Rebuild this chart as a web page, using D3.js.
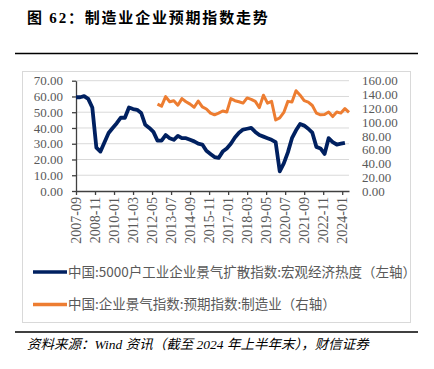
<!DOCTYPE html>
<html>
<head>
<meta charset="utf-8">
<script src="https://cdn.jsdelivr.net/npm/d3@7"></script>
<style>
  body { margin: 0; background: #fff; }
  svg { display: block; }
</style>
</head>
<body>
<div id="chart"></div>
<script>
// 月度类目轴: 2007-09 ~ 2024-06
const startMonth = '2007-09';
const endMonth = '2024-06';
const tickLabels = ['2007-09', '2008-11', '2010-01', '2011-03', '2012-05', '2013-07', '2014-09',
  '2015-11', '2017-01', '2018-03', '2019-05', '2020-07', '2021-09', '2022-11', '2024-01'];

// 宏观经济热度 (左轴), 季度, 自 2007-09 起
const heatStart = '2007-09';
const heatValues = [59.5, 59.5, 60.2, 58.5, 53, 27.5, 25, 31, 36.8, 40,
  43, 46.5, 46.5, 53, 52, 51.5, 49.5, 42, 40, 37.5,
  32, 32, 35.5, 33.5, 32.5, 35, 33.5, 33.5, 32.5, 31.5,
  30, 29.5, 25.5, 23.5, 21.5, 21, 25, 27, 30, 34,
  37, 39, 39.5, 40, 37.5, 35.5, 34.5, 33.5, 32.5, 31,
  12.5, 17.5, 24.5, 33.5, 38.5, 42.5, 41.5, 39.5, 37, 28,
  27, 23.5, 33.5, 31, 29.5, 30, 30.5];

// 预期指数:制造业 (右轴), 季度, 自 2012-09 起
const expectStart = '2012-09';
const expectValues = [126, 123, 137, 129.5, 131, 124.5, 134, 129.5, 126, 121.5,
  130.5, 122, 119, 113, 110.5, 113, 116, 114.5, 134, 131,
  129.5, 127.5, 135, 133, 130, 121, 139, 127.5, 130, 103,
  106, 114, 130, 129, 145.5, 139, 131, 129, 124, 113,
  110.5, 111, 114.5, 108, 114.5, 113, 119.5, 114];

const leftTicks = [0, 10, 20, 30, 40, 50, 60, 70];
const rightTicks = [0, 20, 40, 60, 80, 100, 120, 140, 160];

const legendNames = ['中国:5000户工业企业景气扩散指数:宏观经济热度（左轴）',
  '中国:企业景气指数:预期指数:制造业（右轴）'];

const width = 434, height = 369;
const fmtMonth = d3.timeFormat('%Y-%m');
const parseMonth = d3.timeParse('%Y-%m');

const months = d3.timeMonth.range(parseMonth(startMonth), d3.timeMonth.offset(parseMonth(endMonth), 1)).map(fmtMonth);

function quarterSeries(start, values) {
  const s = parseMonth(start);
  return values.map((v, i) => ({ m: fmtMonth(d3.timeMonth.offset(s, i * 3)), v: v }));
}
const heat = quarterSeries(heatStart, heatValues);
const expect = quarterSeries(expectStart, expectValues);

const plot = { left: 76, right: 349, top: 80.7, bottom: 191 };
const grey = '#595959';
const serif = '"Liberation Serif", "Times New Roman", "Noto Sans CJK SC", serif';

const svg = d3.select('#chart').append('svg')
  .attr('width', width)
  .attr('height', height);

// 标题
svg.append('text')
  .attr('x', 27)
  .attr('y', 23)
  .attr('font-family', serif)
  .attr('font-weight', 'bold')
  .attr('font-size', 15)
  .attr('letter-spacing', 1.8)
  .attr('fill', '#000')
  .text('图 62：制造业企业预期指数走势');

svg.append('line').attr('x1', 15).attr('x2', 418).attr('y1', 53.5).attr('y2', 53.5)
  .attr('stroke', '#000').attr('stroke-width', 1.3);
svg.append('line').attr('x1', 15).attr('x2', 418).attr('y1', 332).attr('y2', 332)
  .attr('stroke', '#000').attr('stroke-width', 1.3);

svg.append('rect')
  .attr('x', 22.5).attr('y', 71.5).attr('width', 388).attr('height', 251)
  .attr('fill', 'none').attr('stroke', '#d9d9d9');

// 比例
const xScale = d3.scalePoint().domain(months).range([plot.left, plot.right]);
const yLeft = d3.scaleLinear().domain([0, 70]).range([plot.bottom, plot.top]);
const yRight = d3.scaleLinear().domain([0, 160]).range([plot.bottom, plot.top]);

// 网格线
svg.append('g').attr('class', 'grid')
  .selectAll('line')
  .data(leftTicks.slice(1))
  .enter().append('line')
  .attr('x1', plot.left).attr('x2', plot.right)
  .attr('y1', d => yLeft(d)).attr('y2', d => yLeft(d))
  .attr('stroke', '#d9d9d9').attr('stroke-width', 1);

// 坐标轴
const yAxisLeft = d3.axisLeft(yLeft).tickValues(leftTicks).tickFormat(d3.format('.2f'))
  .tickSize(4).tickPadding(9).tickSizeOuter(0);
const gl = svg.append('g').attr('transform', `translate(${plot.left},0)`).call(yAxisLeft);
gl.selectAll('text').attr('font-family', serif).attr('font-size', 13).attr('fill', grey);
gl.selectAll('line, path').attr('stroke', '#404040').attr('stroke-width', 1.3);

const yAxisRight = d3.axisRight(yRight).tickValues(rightTicks).tickFormat(d3.format('.2f'))
  .tickSize(0).tickPadding(13).tickSizeOuter(0);
const gr = svg.append('g').attr('transform', `translate(${plot.right},0)`).call(yAxisRight);
gr.select('.domain').remove();
gr.selectAll('text').attr('font-family', serif).attr('font-size', 13).attr('fill', grey);

const xAxis = d3.axisBottom(xScale).tickValues(tickLabels).tickSize(4).tickSizeOuter(0);
const gx = svg.append('g').attr('transform', `translate(0,${plot.bottom})`).call(xAxis);
gx.selectAll('line, path').attr('stroke', '#404040').attr('stroke-width', 1.3);
gx.selectAll('text')
  .attr('font-family', serif).attr('font-size', 14).attr('fill', grey)
  .attr('transform', 'rotate(-90)')
  .attr('text-anchor', 'end')
  .attr('x', -6).attr('y', 0).attr('dy', '0.32em');

// 折线
const lineLeft = d3.line().x(d => xScale(d.m)).y(d => yLeft(d.v));
const lineRight = d3.line().x(d => xScale(d.m)).y(d => yRight(d.v));

svg.append('path').datum(expect)
  .attr('d', lineRight)
  .attr('fill', 'none').attr('stroke', '#ED7D31').attr('stroke-width', 3)
  .attr('stroke-linejoin', 'round');

svg.append('path').datum(heat)
  .attr('d', lineLeft)
  .attr('fill', 'none').attr('stroke', '#002060').attr('stroke-width', 3.8)
  .attr('stroke-linejoin', 'round');

// 图例
const legend = svg.append('g').selectAll('g')
  .data([{ name: legendNames[0], color: '#002060', y: 272 }, { name: legendNames[1], color: '#ED7D31', y: 304.5 }])
  .enter().append('g');
legend.append('line')
  .attr('x1', 33).attr('x2', 67)
  .attr('y1', d => d.y).attr('y2', d => d.y)
  .attr('stroke', d => d.color).attr('stroke-width', 3.5);
legend.append('text')
  .attr('x', 68).attr('y', d => d.y).attr('dy', '0.36em')
  .attr('font-family', '"Noto Sans CJK SC", sans-serif')
  .attr('font-size', 13.5).attr('fill', grey)
  .text(d => d.name);

// 资料来源
svg.append('text')
  .attr('x', 27).attr('y', 349)
  .attr('font-family', serif)
  .attr('font-style', 'italic')
  .attr('font-size', 13.5)
  .attr('fill', '#000')
  .text('资料来源：Wind 资讯（截至 2024 年上半年末），财信证券');
</script>
</body>
</html>
